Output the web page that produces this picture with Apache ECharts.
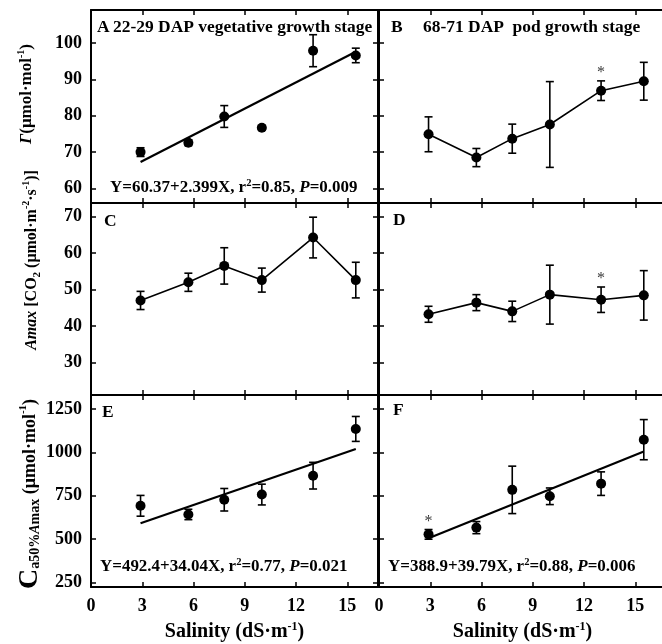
<!DOCTYPE html>
<html>
<head>
<meta charset="utf-8">
<script src="https://cdn.jsdelivr.net/npm/echarts@6/dist/echarts.min.js"></script>
<style>
html,body{margin:0;padding:0;background:#fff}
#chart{width:662px;height:644px}
</style>
</head>
<body>
<div id="chart"></div>
<script>
// salinity levels (dS/m)
var salinity=[2.9,5.7,7.8,10.0,13.0,15.5]
var xTicks=[0,3,6,9,12,15]

// Γ
var gammaVeg=[70.0,72.6,79.8,76.7,97.9,96.6]
var gammaVegErr=[1.2,0.8,3.0,0.6,4.4,2.0]
var gammaPod=[74.9,68.5,73.7,77.6,86.9,89.5]
var gammaPodErr=[4.8,2.5,4.0,11.8,2.7,5.2]
var gammaTicks=[60,70,80,90,100]

// Amax
var amaxVeg=[47.0,52.0,56.5,52.6,64.3,52.6]
var amaxVegErr=[2.5,2.5,5.0,3.3,5.6,4.9]
var amaxPod=[43.2,46.4,44.0,48.6,47.2,48.4]
var amaxPodErr=[2.2,2.2,2.8,8.1,3.5,6.8]
var amaxTicks=[30,40,50,60,70]

// Ca50%Amax
var caVeg=[692,642,727,757,866,1136]
var caVegErr=[60,30,65,60,77,72]
var caPod=[527,566,784,747,820,1074]
var caPodErr=[28,35,137,48,68,116]
var caTicks=[250,500,750,1000,1250]

// regression lines (end points)
var fitGammaVeg=[[2.9,67.3],[15.5,97.6]]
var fitCaVeg=[[2.9,591],[15.5,1020]]
var fitCaPod=[[2.9,504],[15.5,1006]]

// significant points (*), index into salinity
var starGammaPod=[4]
var starAmaxPod=[4]
var starCaPod=[0]

var FONT="'Liberation Serif','DejaVu Serif',serif"

var grids=[
	{left:91,top:10,width:287,height:193},
	{left:379,top:10,width:287,height:193},
	{left:91,top:203,width:287,height:192},
	{left:379,top:203,width:287,height:192},
	{left:91,top:395,width:287,height:192},
	{left:379,top:395,width:287,height:192}
]
grids.forEach(function(g){g.outerBoundsMode='none';g.containLabel=false})
var yRanges=[[56,109.1],[56,109.1],[21,73.8],[21,73.8],[223,1332],[223,1332]]
var yTickList=[gammaTicks,gammaTicks,amaxTicks,amaxTicks,caTicks,caTicks]

var lineStyleAxis={color:'#000',width:2}
function plain(v){return String(v)}

var xAxes=[],yAxes=[]
for(var i=0;i<6;i++){
	var bottomRow=i>=4
	xAxes.push({
		gridIndex:i,type:'value',min:0,max:16.8,position:'bottom',
		axisLine:{show:true,onZero:false,lineStyle:lineStyleAxis},
		axisTick:{show:true,inside:true,length:5,customValues:xTicks,lineStyle:{color:'#000',width:1.5}},
		axisLabel:{show:bottomRow,customValues:xTicks,formatter:plain,margin:10,color:'#000',fontFamily:FONT,fontWeight:'bold',fontSize:18},
		splitLine:{show:false},
		name:bottomRow?'{n|Salinity (dS·m}{sup|-1}{n|)}':'',
		nameLocation:'middle',nameGap:34,
		nameTextStyle:{
			rich:{
				n:{fontFamily:FONT,fontWeight:'bold',fontSize:20,color:'#000',lineHeight:22},
				sup:{fontFamily:FONT,fontWeight:'bold',fontSize:12,color:'#000',verticalAlign:'top'}
			}
		}
	})
	xAxes.push({
		gridIndex:i,type:'value',min:0,max:16.8,position:'top',
		axisLine:{show:true,onZero:false,lineStyle:lineStyleAxis},
		axisTick:{show:true,inside:true,length:5,customValues:xTicks,lineStyle:{color:'#000',width:1.5}},
		axisLabel:{show:false},splitLine:{show:false}
	})
	var leftCol=i%2==0
	yAxes.push({
		gridIndex:i,type:'value',min:yRanges[i][0],max:yRanges[i][1],position:'left',
		axisLine:{show:true,onZero:false,lineStyle:lineStyleAxis},
		axisTick:{show:true,inside:true,length:5,customValues:yTickList[i],lineStyle:{color:'#000',width:1.5}},
		axisLabel:{show:leftCol,customValues:yTickList[i],formatter:plain,margin:9,color:'#000',fontFamily:FONT,fontWeight:'bold',fontSize:18},
		splitLine:{show:false}
	})
	yAxes.push({
		gridIndex:i,type:'value',min:yRanges[i][0],max:yRanges[i][1],position:'right',show:leftCol,
		axisLine:{show:true,onZero:false,lineStyle:lineStyleAxis},
		axisTick:{show:true,inside:true,length:5,customValues:yTickList[i],lineStyle:{color:'#000',width:1.5}},
		axisLabel:{show:false},splitLine:{show:false}
	})
}

//误差线
function renderErr(params,api){
	var x=api.value(0),m=api.value(1),e=api.value(2)
	var top=api.coord([x,m+e]),bot=api.coord([x,m-e])
	var w=4,st={stroke:'#000',lineWidth:1.6}
	return {type:'group',children:[
		{type:'line',shape:{x1:top[0],y1:top[1],x2:bot[0],y2:bot[1]},style:st},
		{type:'line',shape:{x1:top[0]-w,y1:top[1],x2:top[0]+w,y2:top[1]},style:st},
		{type:'line',shape:{x1:bot[0]-w,y1:bot[1],x2:bot[0]+w,y2:bot[1]},style:st}
	]}
}

function pts(vals){
	var d=[]
	for(var k=0;k<salinity.length;k++) d.push([salinity[k],vals[k]])
	return d
}
function errs(vals,e){
	var d=[]
	for(var k=0;k<salinity.length;k++) d.push([salinity[k],vals[k],e[k]])
	return d
}
function stars(idx,vals,e){
	return idx.map(function(k){return [salinity[k],vals[k]+e[k]]})
}

var panels=[
	{v:gammaVeg,e:gammaVegErr,fit:fitGammaVeg,connect:false,star:[]},
	{v:gammaPod,e:gammaPodErr,fit:null,connect:true,star:starGammaPod},
	{v:amaxVeg,e:amaxVegErr,fit:null,connect:true,star:[]},
	{v:amaxPod,e:amaxPodErr,fit:null,connect:true,star:starAmaxPod},
	{v:caVeg,e:caVegErr,fit:fitCaVeg,connect:false,star:[]},
	{v:caPod,e:caPodErr,fit:fitCaPod,connect:false,star:starCaPod}
]

var series=[]
panels.forEach(function(p,i){
	var xi=i*2,yi=i*2
	series.push({
		type:'custom',xAxisIndex:xi,yAxisIndex:yi,renderItem:renderErr,
		data:errs(p.v,p.e),encode:{x:0,y:1},z:2,silent:true
	})
	if(p.fit){
		series.push({
			type:'line',xAxisIndex:xi,yAxisIndex:yi,data:p.fit,showSymbol:false,symbol:'none',
			lineStyle:{color:'#000',width:2.2},z:3,silent:true
		})
	}
	series.push({
		type:'line',xAxisIndex:xi,yAxisIndex:yi,data:pts(p.v),
		symbol:'circle',symbolSize:10,itemStyle:{color:'#000'},
		lineStyle:{color:'#000',width:p.connect?1.6:0,opacity:p.connect?1:0},z:4,silent:true
	})
	if(p.star.length){
		series.push({
			type:'scatter',xAxisIndex:xi,yAxisIndex:yi,data:stars(p.star,p.v,p.e),
			symbolSize:0,z:5,silent:true,
			label:{show:true,position:'top',distance:0,formatter:'*',color:'#000',fontFamily:FONT,fontSize:16}
		})
	}
})

function mk(size,italic,align,lh){
	var s={fontFamily:FONT,fontWeight:'bold',fontSize:size,color:'#000'}
	if(italic) s.fontStyle='italic'
	if(align) s.verticalAlign=align
	if(lh) s.lineHeight=lh
	return s
}
var richG={n:mk(17,false,null,22),i:mk(17,true,null,22),sup:mk(10,false,'top')}
var richA={n:mk(16,false,null,21),i:mk(16,true,null,21),sup:mk(10,false,'top'),sub:mk(11,false,'bottom')}
var richC={n:mk(18,false,null,24),big:mk(28,false,null,24),sup:mk(11,false,'top'),sub:mk(14,false,'bottom'),subi:mk(14,true,'bottom')}
var richEq={n:mk(16,false,null,20),i:mk(16,true,null,20),sup:mk(10,false,'top')}

function txt(x,y,s){
	return {type:'text',x:x,y:y,z:10,scaleX:1.09,style:{text:s,fontFamily:FONT,fontWeight:'bold',fontSize:16,fill:'#000',verticalAlign:'middle'}}
}
function eq(x,y,s){
	return {type:'text',x:x,y:y,z:10,scaleX:1.06,style:{text:s,rich:richEq,verticalAlign:'middle'}}
}
function ytitle(x,y,s,r){
	return {type:'text',x:x,y:y,rotation:Math.PI/2,z:10,style:{text:s,rich:r,align:'center',verticalAlign:'middle'}}
}

var graphics=[
	txt(97,28,'A'),txt(113,28,'22-29 DAP vegetative growth stage'),
	txt(391,28,'B'),txt(423,28,'68-71 DAP  pod growth stage'),
	txt(104,222,'C'),txt(393,221,'D'),txt(102,413,'E'),txt(393,411,'F'),
	eq(110,188,'{n|Y=60.37+2.399X, r}{sup|2}{n|=0.85, }{i|P}{n|=0.009}'),
	eq(100,567,'{n|Y=492.4+34.04X, r}{sup|2}{n|=0.77, }{i|P}{n|=0.021}'),
	eq(388,567,'{n|Y=388.9+39.79X, r}{sup|2}{n|=0.88, }{i|P}{n|=0.006}'),
	ytitle(27,94,'{i|Γ}{n|(μmol·mol}{sup|-1}{n|)}',richG),
	ytitle(32,260,'{i|Amax}{n| [CO}{sub|2}{n| (μmol·m}{sup|-2}{n|·s}{sup|-1}{n|)]}',richA),
	ytitle(30,494,'{big|C}{sub|a50%}{subi|A}{sub|max}{n| (μmol·mol}{sup|-1}{n|)}',richC)
]

var myChart=echarts.init(document.getElementById('chart'))
var option={
	animation:false,
	backgroundColor:'#fff',
	grid:grids,
	xAxis:xAxes,
	yAxis:yAxes,
	series:series,
	graphic:graphics
}
myChart.setOption(option)
</script>
</body>
</html>
